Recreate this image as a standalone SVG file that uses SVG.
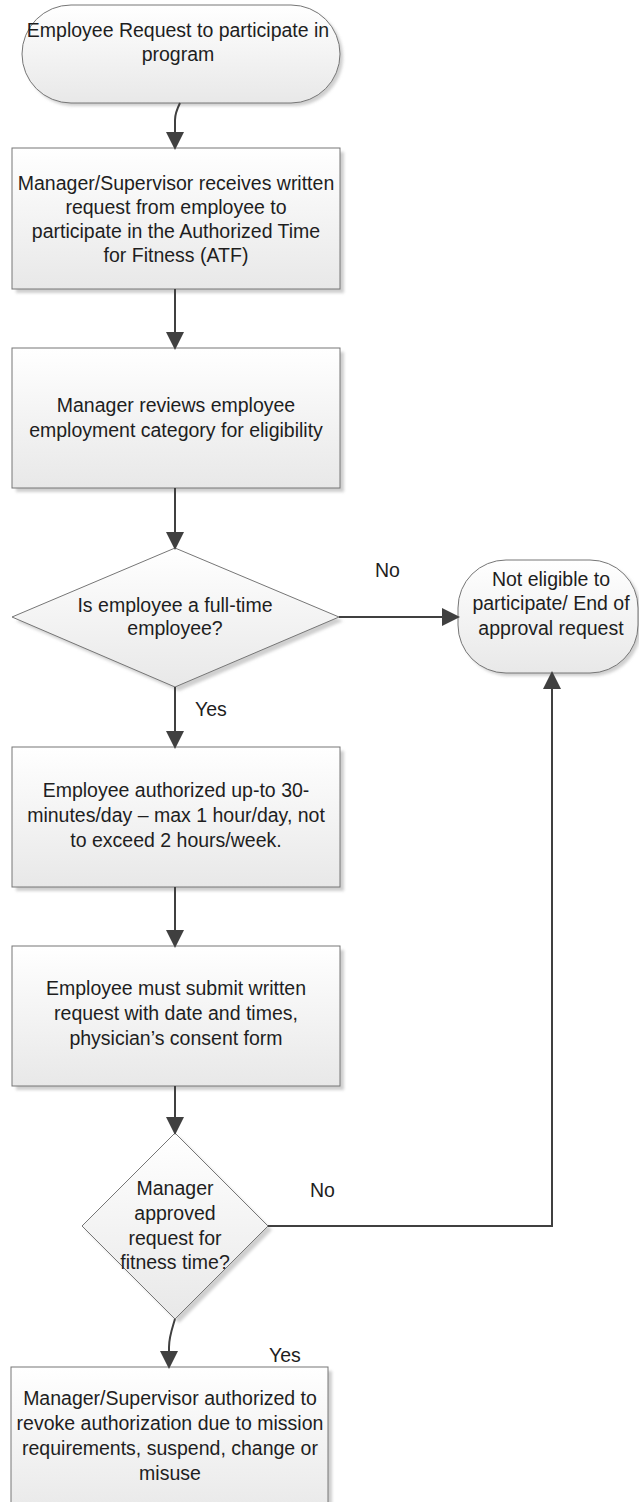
<svg xmlns="http://www.w3.org/2000/svg" width="639" height="1502" viewBox="0 0 639 1502">
<style>
.shape{fill:url(#g);stroke:#767676;stroke-width:1}
.shadow{fill:#cfcfcf;filter:url(#blur)}
.t{font-family:"Liberation Sans",Arial,sans-serif;font-size:19.5px;fill:#1e1e1e;text-anchor:middle}
.lbl{font-family:"Liberation Sans",Arial,sans-serif;font-size:19.5px;fill:#1e1e1e}
.c{fill:none;stroke:#404040;stroke-width:2}
</style>
<defs>
<linearGradient id="g" x1="0" y1="0" x2="0" y2="1">
<stop offset="0" stop-color="#ffffff"/>
<stop offset="1" stop-color="#e8e8e8"/>
</linearGradient>
<filter id="blur" x="-10%" y="-10%" width="120%" height="120%"><feGaussianBlur stdDeviation="1.5"/></filter>
<marker id="arr" markerUnits="userSpaceOnUse" markerWidth="18" markerHeight="18" viewBox="0 0 16 16" refX="0" refY="8" orient="auto">
<path d="M0,0 L16,8 L0,16 Z" fill="#404040"/>
</marker>
</defs>

<g id="start">
<rect class="shadow" x="25" y="8" width="318" height="98" rx="49" ry="49"/>
<rect class="shape" x="22" y="5" width="318" height="98" rx="49" ry="49"/>
<text class="t" x="178" y="37">Employee Request to participate in</text>
<text class="t" x="178" y="61">program</text>
</g>

<g id="box1">
<rect class="shadow" x="16" y="152" width="328" height="141"/>
<rect class="shape" x="12" y="148" width="328" height="141"/>
<text class="t" x="176" y="190">Manager/Supervisor receives written</text>
<text class="t" x="176" y="214">request from employee to</text>
<text class="t" x="176" y="238">participate in the Authorized Time</text>
<text class="t" x="176" y="262">for Fitness (ATF)</text>
</g>

<g id="box2">
<rect class="shadow" x="16" y="352" width="328" height="140"/>
<rect class="shape" x="12" y="348" width="328" height="140"/>
<text class="t" x="176" y="412">Manager reviews employee</text>
<text class="t" x="176" y="437">employment category for eligibility</text>
</g>

<g id="decision1">
<polygon class="shadow" points="179,552 343,621 179,691 16,621"/>
<polygon class="shape" points="175,548 339,617 175,687 12,617"/>
<text class="t" x="175" y="612">Is employee a full-time</text>
<text class="t" x="175" y="635">employee?</text>
</g>

<g id="noteligible">
<rect class="shadow" x="461" y="563" width="180" height="113" rx="48" ry="48"/>
<rect class="shape" x="458" y="560" width="180" height="113" rx="48" ry="48"/>
<text class="t" x="551" y="586">Not eligible to</text>
<text class="t" x="551" y="610">participate/ End of</text>
<text class="t" x="551" y="635">approval request</text>
</g>

<g id="box3">
<rect class="shadow" x="16" y="751" width="328" height="140"/>
<rect class="shape" x="12" y="747" width="328" height="140"/>
<text class="t" x="176" y="797">Employee authorized up-to 30-</text>
<text class="t" x="176" y="822">minutes/day – max 1 hour/day, not</text>
<text class="t" x="176" y="847">to exceed 2 hours/week.</text>
</g>

<g id="box4">
<rect class="shadow" x="16" y="950" width="328" height="140"/>
<rect class="shape" x="12" y="946" width="328" height="140"/>
<text class="t" x="176" y="995">Employee must submit written</text>
<text class="t" x="176" y="1020">request with date and times,</text>
<text class="t" x="176" y="1045">physician’s consent form</text>
</g>

<g id="decision2">
<polygon class="shadow" points="179,1137 272,1230 179,1323 86,1230"/>
<polygon class="shape" points="175,1133 268,1226 175,1319 82,1226"/>
<text class="t" x="175" y="1195">Manager</text>
<text class="t" x="175" y="1220">approved</text>
<text class="t" x="175" y="1245">request for</text>
<text class="t" x="175" y="1269">fitness time?</text>
</g>

<g id="box5">
<rect class="shadow" x="15" y="1371" width="317" height="150"/>
<rect class="shape" x="11" y="1367" width="317" height="150"/>
<text class="t" x="170" y="1405">Manager/Supervisor authorized to</text>
<text class="t" x="170" y="1430">revoke authorization due to mission</text>
<text class="t" x="170" y="1455">requirements, suspend, change or</text>
<text class="t" x="170" y="1480">misuse</text>
</g>

<g id="connectors">
<path class="c" d="M180,103 C177,109 175,113 175,120 L175,132" marker-end="url(#arr)"/>
<path class="c" d="M175,289 L175,332" marker-end="url(#arr)"/>
<path class="c" d="M175,488 L175,532" marker-end="url(#arr)"/>
<path class="c" d="M339,617 L442,617" marker-end="url(#arr)"/>
<path class="c" d="M175,687 L175,731" marker-end="url(#arr)"/>
<path class="c" d="M175,887 L175,930" marker-end="url(#arr)"/>
<path class="c" d="M175,1086 L175,1117" marker-end="url(#arr)"/>
<path class="c" d="M268,1226 L552,1226 L552,689" marker-end="url(#arr)"/>
<path class="c" d="M175,1319 C172,1329 169,1337 169,1347 L169,1351" marker-end="url(#arr)"/>
<text class="lbl" x="375" y="577">No</text>
<text class="lbl" x="195" y="716">Yes</text>
<text class="lbl" x="310" y="1197">No</text>
<text class="lbl" x="269" y="1362">Yes</text>
</g>
</svg>
